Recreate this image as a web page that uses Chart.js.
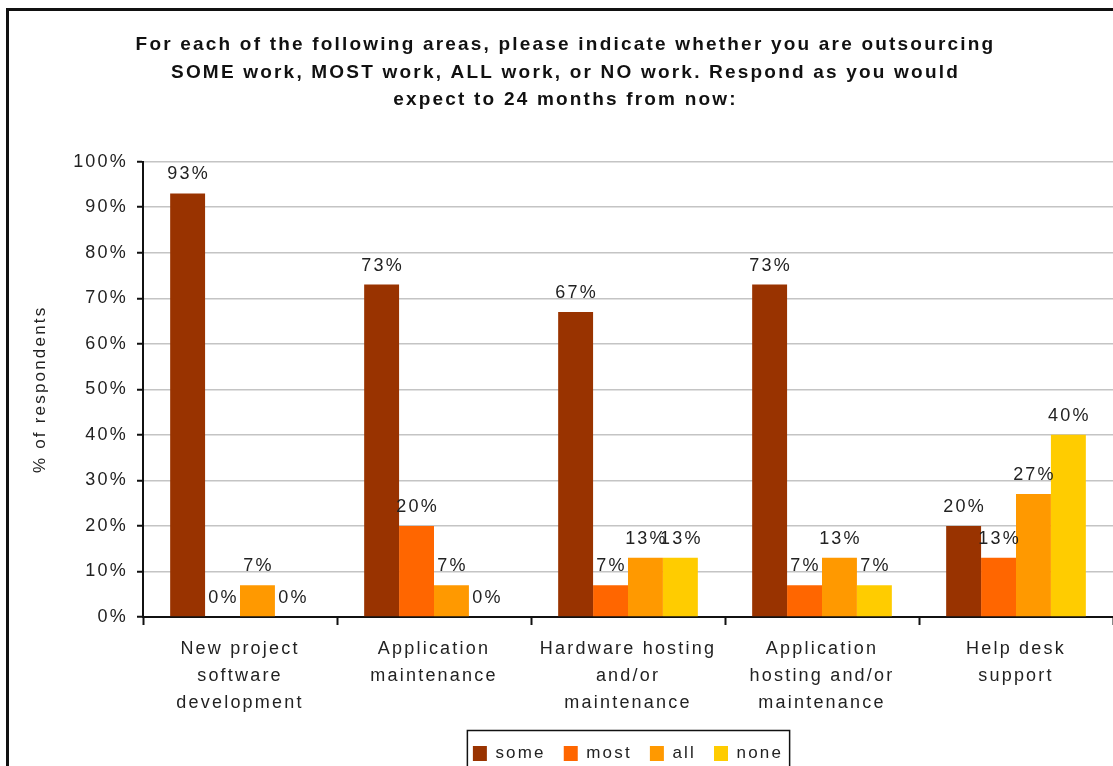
<!DOCTYPE html>
<html>
<head>
<meta charset="utf-8">
<title>Outsourcing in 24 months</title>
<script src="https://cdn.jsdelivr.net/npm/chart.js@4.4.1/dist/chart.umd.min.js"></script>
<style>
    html, body { margin: 0; padding: 0; background: #fff; overflow: hidden; }
    #frame {
        position: absolute; left: 6px; top: 8px; width: 1200px; height: 900px;
        border-top: 3px solid #111; border-left: 3px solid #111;
    }
    #wrap { position: absolute; left: 0; top: 0; width: 1113px; height: 766px; }
</style>
</head>
<body>
<div id="frame"></div>
<div id="wrap"><canvas id="outsourcingChart" width="1113" height="766"></canvas></div>
<script>
const areas = [
    ["New project", "software", "development"],
    ["Application", "maintenance"],
    ["Hardware hosting", "and/or", "maintenance"],
    ["Application", "hosting and/or", "maintenance"],
    ["Help desk", "support"]
];
const someWork = [93, 73, 67, 73, 20];
const mostWork = [0, 20, 7, 7, 13];
const allWork = [7, 7, 13, 13, 27];
const noWork = [0, 0, 13, 7, 40];
const yTicks = [0, 10, 20, 30, 40, 50, 60, 70, 80, 90, 100];

const FONT = "'Liberation Sans', Arial, sans-serif";
const SPACING = "2.2px";

// the text in this chart is drawn with loose letter spacing
const spacingPlugin = {
    id: "spacing",
    beforeLayout(chart) { chart.ctx.letterSpacing = SPACING; },
    beforeDraw(chart) { chart.ctx.letterSpacing = SPACING; }
};

// percentage above every bar
const valueLabels = {
    id: "valueLabels",
    afterDatasetsDraw(chart) {
        const ctx = chart.ctx;
        ctx.save();
        ctx.letterSpacing = SPACING;
        ctx.font = "18px " + FONT;
        ctx.fillStyle = "#222";
        ctx.textAlign = "center";
        ctx.textBaseline = "middle";
        chart.data.datasets.forEach((ds, i) => {
            chart.getDatasetMeta(i).data.forEach((bar, j) => {
                ctx.fillText(ds.data[j] + "%", bar.x + 1, bar.y - 19);
            });
        });
        ctx.restore();
    }
};

// thin box around the legend items
const legendBox = {
    id: "legendBox",
    afterDraw(chart) {
        const boxes = chart.legend.legendHitBoxes;
        if (!boxes || !boxes.length) return;
        const first = boxes[0];
        const last = boxes[boxes.length - 1];
        const ctx = chart.ctx;
        ctx.save();
        ctx.strokeStyle = "#111";
        ctx.lineWidth = 1.5;
        ctx.strokeRect(first.left - 5.5, 730.5, last.left + last.width - first.left + 12, 60);
        ctx.restore();
    }
};

const ctx = document.getElementById("outsourcingChart").getContext("2d");
new Chart(ctx, {
    type: "bar",
    data: {
        labels: areas,
        datasets: [
            { label: "some", data: someWork, backgroundColor: "#993300" },
            { label: "most", data: mostWork, backgroundColor: "#FF6600" },
            { label: "all", data: allWork, backgroundColor: "#FF9900" },
            { label: "none", data: noWork, backgroundColor: "#FFCC00" }
        ]
    },
    options: {
        responsive: false,
        animation: false,
        devicePixelRatio: 1,
        categoryPercentage: 0.72,
        barPercentage: 1,
        layout: { padding: { left: 18, right: 0, top: 0, bottom: -6 } },
        plugins: {
            title: {
                display: true,
                text: [
                    "For each of the following areas, please indicate whether you are outsourcing",
                    "SOME work, MOST work, ALL work, or NO work. Respond as you would",
                    "expect to 24 months from now:"
                ],
                color: "#111",
                font: { family: FONT, size: 19, weight: "bold", lineHeight: 1.45 },
                padding: { top: 31, bottom: 48 }
            },
            legend: {
                position: "bottom",
                fullSize: false,
                labels: {
                    color: "#222",
                    font: { family: FONT, size: 17 },
                    boxWidth: 14,
                    boxHeight: 15,
                    padding: 18
                }
            },
            tooltip: { enabled: false }
        },
        scales: {
            x: {
                grid: {
                    offset: true,
                    drawOnChartArea: false,
                    drawTicks: true,
                    tickLength: 8,
                    tickColor: "#111",
                    tickWidth: 2
                },
                border: { color: "#111", width: 2 },
                ticks: {
                    color: "#222",
                    font: { family: FONT, size: 18, lineHeight: 1.52 },
                    padding: 10,
                    maxRotation: 0,
                    autoSkip: false
                },
                afterFit(scale) { scale.height = 110; }
            },
            y: {
                min: 0,
                max: 100,
                afterBuildTicks(scale) { scale.ticks = yTicks.map(v => ({ value: v })); },
                grid: {
                    color: "#c4c4c4",
                    lineWidth: 1.5,
                    tickLength: 6,
                    tickColor: "#111",
                    tickWidth: 2
                },
                border: { color: "#111", width: 2 },
                ticks: {
                    color: "#222",
                    font: { family: FONT, size: 18 },
                    padding: 9,
                    callback: v => v + "%"
                },
                title: {
                    display: true,
                    text: "% of respondents",
                    color: "#222",
                    font: { family: FONT, size: 17 },
                    padding: { top: 12, bottom: 0 }
                },
                afterFit(scale) { scale.width = 125; }
            }
        }
    },
    plugins: [spacingPlugin, valueLabels, legendBox]
});
</script>
</body>
</html>
